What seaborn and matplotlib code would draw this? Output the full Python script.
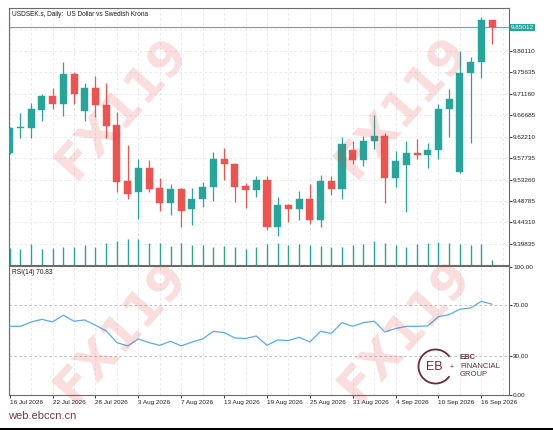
import numpy as np
import pandas as pd
import matplotlib
matplotlib.use("Agg")
import matplotlib.pyplot as plt
import seaborn as sns
from matplotlib.patches import Arc, Rectangle
from matplotlib import transforms

# ---------------- data ----------------
DATES = pd.bdate_range("2026-07-16", "2026-09-17")

OPEN = [9.5874, 9.6396, 9.6396, 9.6778, 9.7070, 9.6903, 9.7522, 9.6764, 9.7237, 9.6882,
        9.6458, 9.5297, 9.5074, 9.5561, 9.5144, 9.4845, 9.5123, 9.4713, 9.4928, 9.5179,
        9.5756, 9.5658, 9.5199, 9.5102, 9.5311, 9.4344, 9.4789, 9.4713, 9.4914, 9.4483,
        9.5297, 9.5130, 9.5944, 9.5742, 9.6124, 9.6229, 9.5366, 9.5624, 9.5888, 9.5846,
        9.5937, 9.6799, 9.5485, 9.7557, 9.7772, 9.8656]
HIGH = [9.6416, 9.6709, 9.6917, 9.7112, 9.7230, 9.7772, 9.7564, 9.7348, 9.7487, 9.7348,
        9.6729, 9.6048, 9.5756, 9.5735, 9.5366, 9.5241, 9.5144, 9.5158, 9.5283, 9.5909,
        9.5992, 9.5679, 9.5255, 9.5408, 9.5408, 9.4970, 9.4817, 9.5088, 9.5227, 9.5422,
        9.5408, 9.6222, 9.6131, 9.6236, 9.6667, 9.6291, 9.5923, 9.6131, 9.6173, 9.6097,
        9.6896, 9.7216, 9.8009, 9.7891, 9.8725, 9.8660]
LOW = [9.5853, 9.6201, 9.6201, 9.6555, 9.6806, 9.6653, 9.6910, 9.6555, 9.6639, 9.6201,
       9.5060, 9.4914, 9.4511, 9.5074, 9.4671, 9.4581, 9.4337, 9.4379, 9.4754, 9.4880,
       9.5311, 9.4859, 9.4740, 9.4970, 9.4275, 9.4149, 9.4441, 9.4483, 9.4393, 9.4344,
       9.5005, 9.4928, 9.5645, 9.5617, 9.5964, 9.4831, 9.5179, 9.4657, 9.5749, 9.5568,
       9.5749, 9.6208, 9.5457, 9.6097, 9.7439, 9.8155]
CLOSE = [9.6396, 9.6430, 9.6792, 9.7070, 9.6903, 9.7522, 9.7105, 9.7237, 9.6875, 9.6444,
         9.5283, 9.5019, 9.5561, 9.5123, 9.4845, 9.5123, 9.4671, 9.4928, 9.5179, 9.5756,
         9.5651, 9.5179, 9.5102, 9.5311, 9.4344, 9.4789, 9.4713, 9.4914, 9.4483, 9.5297,
         9.5130, 9.6062, 9.5742, 9.6131, 9.6229, 9.5366, 9.5714, 9.5888, 9.5846, 9.5937,
         9.6799, 9.7001, 9.7557, 9.7779, 9.8656, 9.85012]
VOLUME = [5000, 4800, 6300, 4700, 5100, 5500, 5500, 5900, 5300, 6700,
          7100, 7800, 7900, 6500, 6500, 5700, 6500, 6100, 5900, 5300,
          5700, 5300, 4900, 5300, 6300, 6700, 6100, 6300, 5900, 5700,
          5500, 5500, 6100, 6300, 7100, 6700, 6100, 5300, 6300, 6500,
          6900, 6700, 6300, 6100, 6300, 1500]
RSI = [53.5, 53.5, 56.9, 59.0, 56.9, 62.2, 57.5, 58.5, 54.3, 49.9,
       40.7, 38.1, 43.6, 40.7, 38.6, 41.8, 38.1, 41.2, 43.6, 49.6,
       48.6, 44.4, 43.9, 45.9, 38.6, 42.8, 42.3, 44.9, 41.2, 49.6,
       48.0, 56.4, 53.5, 56.4, 57.5, 49.1, 51.7, 53.5, 53.5, 53.8,
       61.1, 62.7, 66.9, 67.9, 73.1, 70.83]

PRICE_TICKS = [9.39835, 9.44310, 9.48785, 9.53260, 9.57735, 9.62210,
               9.66685, 9.71160, 9.75635, 9.80110, 9.84585]
PRICE_TICK_LABELS = ["9.39835", "9.44310", "9.48785", "9.53260", "9.57735", "9.62210",
                     "9.66685", "9.71160", "9.75635", "9.80110", ""]
RSI_TICKS = [0, 30, 70, 100]
RSI_TICK_LABELS = ["0.00", "30.00", "70.00", "100.00"]
RSI_LEVELS = [30, 70]
LAST_PRICE = 9.85012
TITLE = "USDSEK.s, Daily:  US Dollar vs Swedish Krona"
RSI_TITLE = "RSI(14) 70.83"
WATERMARK = "FX119"
SITE = "web.ebccn.cn"
LOGO_LINES = ["EBC", "FINANCIAL", "GROUP"]

# ---------------- style ----------------
sns.set_theme(style="white")
plt.rcParams['font.family'] = ['Liberation Sans', 'DejaVu Sans']

UP = "#26a69a"
DOWN = "#ef5350"
SPINE = "#6a6a6a"
GRID = "#e6e6e6"
MAROON = "#6d2b3a"

df = pd.DataFrame({"date": DATES, "open": OPEN, "high": HIGH, "low": LOW,
                   "close": CLOSE, "volume": VOLUME, "rsi": RSI})
df["i"] = np.arange(len(df))
df["up"] = df["close"] >= df["open"]
df["color"] = np.where(df["up"], UP, DOWN)
n = len(df)

fig = plt.figure(figsize=(5.53, 4.30), dpi=100)
fig.patch.set_facecolor("white")

pos_main = [0.01682, 0.38372, 0.90362, 0.59698]
pos_rsi = [0.01682, 0.08070, 0.90362, 0.30070]
ax = fig.add_axes(pos_main)
axr = fig.add_axes(pos_rsi, sharex=ax)
axv = fig.add_axes(pos_main, sharex=ax)
axv.patch.set_alpha(0)
axv.axis("off")

xlim = (-0.04, 46.58)
ax.set_xlim(*xlim)
ax.set_ylim(9.3544, 9.8900)
axr.set_ylim(-0.6, 100.8)

# grids
for xi in range(0, n + 1, 2):
    ax.axvline(xi, color=GRID, lw=0.6, ls=(0, (3, 3)), zorder=0)
    axr.axvline(xi, color=GRID, lw=0.6, ls=(0, (3, 3)), zorder=0)
for p in PRICE_TICKS:
    ax.axhline(p, color=GRID, lw=0.6, ls=(0, (3, 3)), zorder=0)
for lv in RSI_LEVELS:
    axr.axhline(lv, color="#b5b5b5", lw=0.6, ls=(0, (3, 3)), zorder=1)

# price line
ax.axhline(LAST_PRICE, color="#4fb3a9", lw=0.8, zorder=1)

# candles
ax.vlines(df["i"], df["low"], df["high"], colors=df["color"], lw=0.9, zorder=2)
body_bottom = np.minimum(df["open"], df["close"])
body_height = np.maximum(np.abs(df["close"] - df["open"]), 0.0012)
ax.bar(df["i"], body_height, bottom=body_bottom, width=0.66,
       color=df["color"], edgecolor=df["color"], lw=0.3, zorder=3)

# volume
axv.set_ylim(0, 79 * 257 / 26.3 * 100)
axv.vlines(df["i"], 0, df["volume"], colors=UP, lw=1.0)

# RSI line
sns.lineplot(data=df, x="i", y="rsi", ax=axr, color="#5aa9f5", lw=0.9, zorder=3)
axr.set_xlabel("")
axr.set_ylabel("")
ax.set_xlabel("")
ax.set_ylabel("")

# axes / ticks
for a in (ax, axr):
    for s in a.spines.values():
        s.set_visible(True)
        s.set_color(SPINE)
        s.set_linewidth(0.8)
    a.yaxis.tick_right()
    a.tick_params(axis="y", length=2, width=0.6, pad=1, labelsize=4.6,
                  colors="#222222", right=True, left=False)

ax.set_yticks(PRICE_TICKS)
ax.set_yticklabels(PRICE_TICK_LABELS)
ax.tick_params(axis="x", bottom=False, labelbottom=False)

axr.set_yticks(RSI_TICKS)
axr.set_yticklabels(RSI_TICK_LABELS)
tick_idx = list(range(0, n, 4))
axr.set_xticks(tick_idx)
axr.set_xticklabels([f"{d.day} {d.strftime('%b %Y')}" for d in df["date"].iloc[tick_idx]])
axr.tick_params(axis="x", length=2, width=0.6, pad=1.2, labelsize=4.6,
                colors="#222222", bottom=True)
for lab in axr.get_xticklabels():
    lab.set_ha("left")
ax.set_xlim(*xlim)

# last price box
trans = transforms.blended_transform_factory(ax.transAxes, ax.transData)
ax.text(1.004, LAST_PRICE, f"{LAST_PRICE:.5f}", transform=trans, ha="left",
        va="center", fontsize=4.6, color="white", clip_on=False, zorder=20,
        bbox=dict(boxstyle="square,pad=0.2", fc=UP, ec="none"))

# ---------------- overlay (pixel coordinates) ----------------
ov = fig.add_axes([0, 0, 1, 1], zorder=10)
ov.set_xlim(0, 553)
ov.set_ylim(430, 0)
ov.axis("off")
ov.patch.set_alpha(0)

ov.text(12, 14, TITLE, fontsize=4.7, va="center", ha="left", color="#1a1a1a")
ov.text(12, 272.5, RSI_TITLE, fontsize=4.7, va="center", ha="left", color="#1a1a1a")

for cx, cy in [(122, 108), (402, 107), (121, 332), (405, 331)]:
    ov.text(cx, cy, WATERMARK, rotation=48, fontsize=35, fontweight="heavy",
            color="#e53935", alpha=0.17, ha="center", va="center",
            family="DejaVu Sans", rotation_mode="anchor")

# logo
ov.add_patch(Arc((435.5, 366.5), 34, 34, theta1=35, theta2=325, color=MAROON, lw=1.3))
ov.text(434.5, 367, "EB", fontsize=9, color=MAROON, ha="center", va="center")
ov.text(452, 367, "+", fontsize=5, color=MAROON, ha="center", va="center")
ov.text(460, 357.5, LOGO_LINES[0], fontsize=5.5, fontweight="bold", color=MAROON,
        ha="left", va="center")
ov.text(460, 366.3, LOGO_LINES[1], fontsize=5.5, color=MAROON, ha="left", va="center")
ov.text(460, 374.7, LOGO_LINES[2], fontsize=5.5, color=MAROON, ha="left", va="center")

ov.text(8, 416, SITE, fontsize=8, color="#7e3a40", ha="left", va="center")
ov.add_patch(Rectangle((0, 428), 553, 2, color="black", lw=0))

fig.savefig("out.png", dpi=100)
